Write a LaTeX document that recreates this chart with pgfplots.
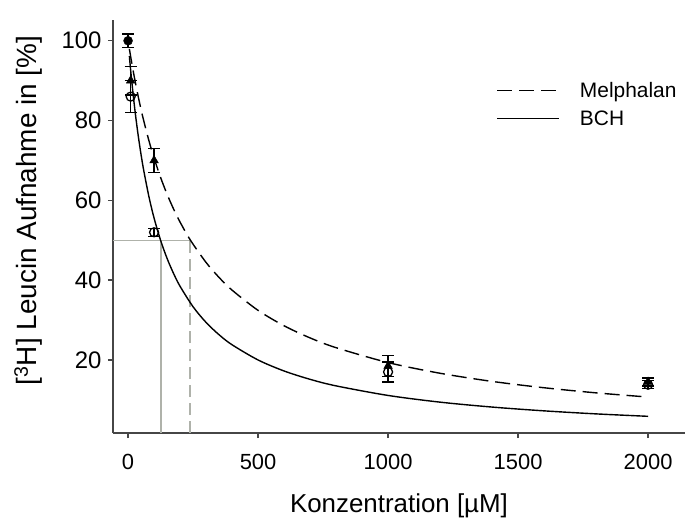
\documentclass[border=0pt]{standalone}
\usepackage{pgfplots}
\pgfplotsset{compat=1.18}
\usepackage{fontspec}
\setmainfont{Liberation Sans}
\definecolor{axisgray}{RGB}{70,70,70}
\definecolor{refgray}{RGB}{175,178,170}
\begin{document}
\begin{tikzpicture}
\begin{axis}[
 scale only axis,width=572bp,height=413bp,
 xmin=-58,xmax=2142,ymin=1.7,ymax=105.2,
 axis x line=bottom,axis y line=left,
 axis line style={-,draw=axisgray,line width=1.8bp},
 tick style={draw=axisgray,line width=1.5bp},
 tick align=outside,major tick length=5bp,
 xtick={0,500,1000,1500,2000},ytick={20,40,60,80,100},
 minor tick num=0,
 /pgf/number format/assume math mode=true,
 /pgf/number format/1000 sep={},
 xticklabel style={font=\fontsize{22}{25}\selectfont,yshift=-13bp},
 yticklabel style={font=\fontsize{24}{27}\selectfont,xshift=-3bp},
 xlabel={Konzentration [µM]},
 ylabel={[\textsuperscript{3}H] Leucin Aufnahme in [\%]},
 xlabel style={font=\fontsize{26}{30}\selectfont,yshift=-17bp},
 ylabel style={font=\fontsize{28}{32}\selectfont,yshift=12bp,xshift=16bp},
 legend style={draw=none,fill=none,font=\fontsize{21}{25}\selectfont,
   at={(axis description cs:0.665,0.86)},anchor=north west,
   row sep=8bp,/tikz/every odd column/.append style={column sep=18bp}},
 legend cell align=left,
 legend image code/.code={\draw[#1] (0bp,0bp) -- (62bp,0bp);},
]
% reference lines at 50 %
\addplot[refgray,line width=1.4bp,forget plot] coordinates {(-58,50) (238,50)};
\addplot[refgray,line width=1.4bp,forget plot] coordinates {(126,1.7) (126,50)};
\addplot[refgray,line width=1.4bp,dash pattern=on 12bp off 6bp,forget plot] coordinates {(238,1.7) (238,50)};
% fitted curves
\addplot[black,line width=1.4bp,dash pattern=on 15bp off 7bp,smooth] coordinates {
 (5,97.96) (10,96.0) (20,92.31) (30,88.89) (40,85.71) (50,82.76) (60,80) (80,75)
 (100,70.59) (125,65.75) (150,61.54) (175,57.83) (200,54.55) (240,50) (300,44.44)
 (350,40.68) (400,37.5) (500,32.43) (600,28.57) (700,25.53) (800,23.08) (1000,19.35)
 (1200,16.67) (1400,14.63) (1600,13.04) (1800,11.76) (2000,10.71)};
\addlegendentry{Melphalan}
\addplot[black,line width=1.4bp,smooth] coordinates {
 (5,96.15) (10,92.59) (20,86.21) (30,80.65) (40,75.76) (50,71.43) (60,67.57) (80,60.98)
 (100,55.56) (125,50) (150,45.45) (175,41.67) (200,38.46) (250,33.33) (300,29.41)
 (350,26.32) (400,23.81) (500,20) (600,17.24) (700,15.15) (800,13.51) (1000,11.11)
 (1200,9.43) (1400,8.20) (1600,7.25) (1800,6.49) (2000,5.88)};
\addlegendentry{BCH}
% measured points
\addplot[only marks,mark=*,mark size=4.5bp,black,forget plot,
 error bars/.cd,y dir=both,y explicit,
 error bar style={line width=1.2bp},
 error mark options={rotate=90,mark size=6bp,line width=1.2bp}]
 coordinates {(0,100) +- (0,1.7)};
\addplot[only marks,mark=triangle*,mark size=5bp,black,forget plot,
 error bars/.cd,y dir=both,y explicit,
 error bar style={line width=1.2bp},
 error mark options={rotate=90,mark size=6bp,line width=1.2bp}]
 coordinates {(10,90) +- (0,3.6) (100,70) +- (0,3) (1000,18.5) +- (0,2.7) (2000,14.5) +- (0,1)};
\addplot[only marks,mark=o,mark size=4.5bp,black,mark options={fill=white,line width=1.3bp},forget plot,
 error bars/.cd,y dir=both,y explicit,
 error bar style={line width=1.2bp},
 error mark options={rotate=90,mark size=6bp,line width=1.2bp}]
 coordinates {(10,86) +- (0,4) (100,52) +- (0,1) (1000,17) +- (0,2.5) (2000,13.8) +- (0,1)};
\end{axis}
\pgfresetboundingbox
\path[use as bounding box] (current axis.south west) ++(-113bp,-87bp) rectangle ++(689bp,520bp);
\end{tikzpicture}
\end{document}
